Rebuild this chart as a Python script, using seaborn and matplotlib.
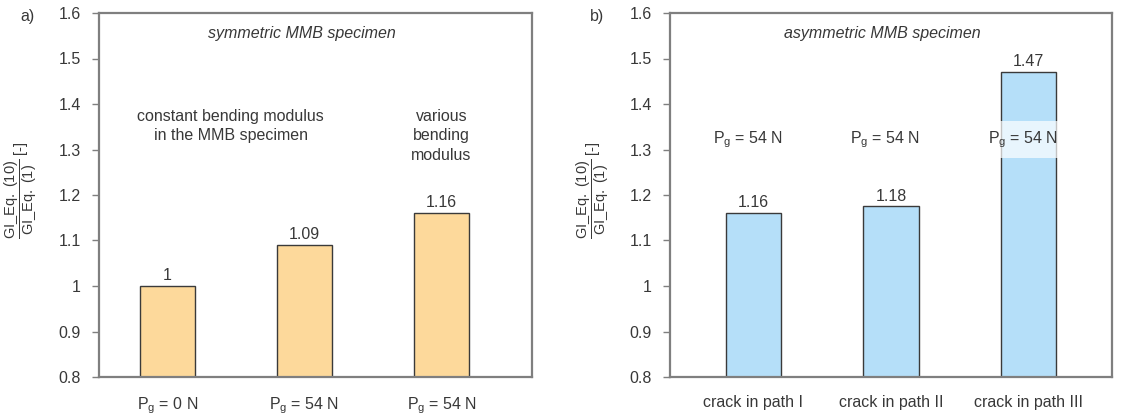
import matplotlib
matplotlib.use("Agg")
import matplotlib.pyplot as plt
import seaborn as sns
import pandas as pd

# panel a) symmetric specimen
sym_cases = ["const, 0 N", "const, 54 N", "various, 54 N"]
sym_ratio = [1.00, 1.09, 1.16]
sym_value_labels = ["1", "1.09", "1.16"]
sym_ticklabels = [r"P$_\mathrm{g}$ = 0 N", r"P$_\mathrm{g}$ = 54 N", r"P$_\mathrm{g}$ = 54 N"]

# panel b) asymmetric specimen
asym_cases = ["path I", "path II", "path III"]
asym_ratio = [1.16, 1.175, 1.47]
asym_value_labels = ["1.16", "1.18", "1.47"]
asym_ticklabels = ["crack in path I", "crack in path II", "crack in path III"]

yticks = [0.8, 0.9, 1.0, 1.1, 1.2, 1.3, 1.4, 1.5, 1.6]
ytick_labels = ["0.8", "0.9", "1", "1.1", "1.2", "1.3", "1.4", "1.5", "1.6"]

orange = "#FDD99B"
blue = "#B5DFF9"
edge = "#3a3a3a"
grey = "#7f7f7f"
txt = "#383838"
fs = 11.5

sns.set_style("white")
plt.rcParams["font.family"] = ["Liberation Sans", "DejaVu Sans"]
plt.rcParams["mathtext.fontset"] = "custom"
plt.rcParams["mathtext.rm"] = "Liberation Sans"
plt.rcParams["mathtext.it"] = "Liberation Sans:italic"

fig = plt.figure(figsize=(11.23, 4.18), dpi=100)
W, H = 1123, 418
ax_a = fig.add_axes([99 / W, 1 - 377 / H, (532 - 99) / W, (377 - 13) / H])
ax_b = fig.add_axes([670 / W, 1 - 377 / H, (1112 - 670) / W, (377 - 13) / H])

ylabel = r"$\dfrac{\mathrm{GI\_Eq.\ (10)}}{\mathrm{GI\_Eq.\ (1)}}$ [-]"


def style_axis(ax, cases, values, color, ticklabels, value_labels):
    df = pd.DataFrame({"case": cases, "ratio": values})
    sns.barplot(data=df, x="case", y="ratio", order=cases, color=color,
                width=0.4, edgecolor=edge, linewidth=1.0, saturation=1,
                ax=ax)
    ax.set_ylim(0.8, 1.6)
    ax.set_yticks(yticks)
    ax.set_yticklabels(ytick_labels, fontsize=fs, color=txt)
    ax.set_xticks(range(len(cases)))
    ax.set_xticklabels(ticklabels, fontsize=fs, color=txt)
    ax.tick_params(axis="x", length=0, pad=13)
    ax.tick_params(axis="y", length=5, width=1, color=grey, direction="out",
                   pad=8, left=True)
    for s in ax.spines.values():
        s.set_color(grey)
        s.set_linewidth(1.6)
    ax.set_xlabel("")
    ax.set_ylabel("")
    ax.bar_label(ax.containers[0], labels=value_labels, padding=2,
                 fontsize=fs, color=txt)


style_axis(ax_a, sym_cases, sym_ratio, orange, sym_ticklabels, sym_value_labels)
ax_a.set_xlim(-0.5, 2.66)
style_axis(ax_b, asym_cases, asym_ratio, blue, asym_ticklabels, asym_value_labels)
ax_b.set_xlim(-0.607, 2.607)

# panel a annotations
ax_a.text(0.98, 1.556, "symmetric MMB specimen", style="italic", fontsize=fs,
          color=txt, ha="center", va="center")
ax_a.text(0.46, 1.39, "constant bending modulus\nin the MMB specimen",
          fontsize=fs, color=txt, ha="center", va="top", linespacing=1.4)
ax_a.text(2.0, 1.39, "various\nbending\nmodulus", fontsize=fs, color=txt,
          ha="center", va="top", linespacing=1.4)

# panel b annotations
ax_b.text(0.94, 1.556, "asymmetric MMB specimen", style="italic", fontsize=fs,
          color=txt, ha="center", va="center")
for i in range(len(asym_cases)):
    t = ax_b.text(i - 0.04, 1.322, r"P$_\mathrm{g}$ = 54 N", fontsize=fs,
                  color=txt, ha="center", va="center")
    if i == 2:
        t.set_bbox(dict(facecolor="white", alpha=0.7, edgecolor="none",
                        boxstyle="square,pad=0.5"))

fig.text(20 / W, 1 - 16 / H, "a)", fontsize=fs, color=txt, ha="left", va="center")
fig.text(590 / W, 1 - 16 / H, "b)", fontsize=fs, color=txt, ha="left", va="center")
fig.text(21 / W, 1 - 190 / H, ylabel, rotation=90, fontsize=10.5, color=txt,
         ha="center", va="center")
fig.text(593 / W, 1 - 190 / H, ylabel, rotation=90, fontsize=10.5, color=txt,
         ha="center", va="center")

fig.savefig("out.png", dpi=100)
